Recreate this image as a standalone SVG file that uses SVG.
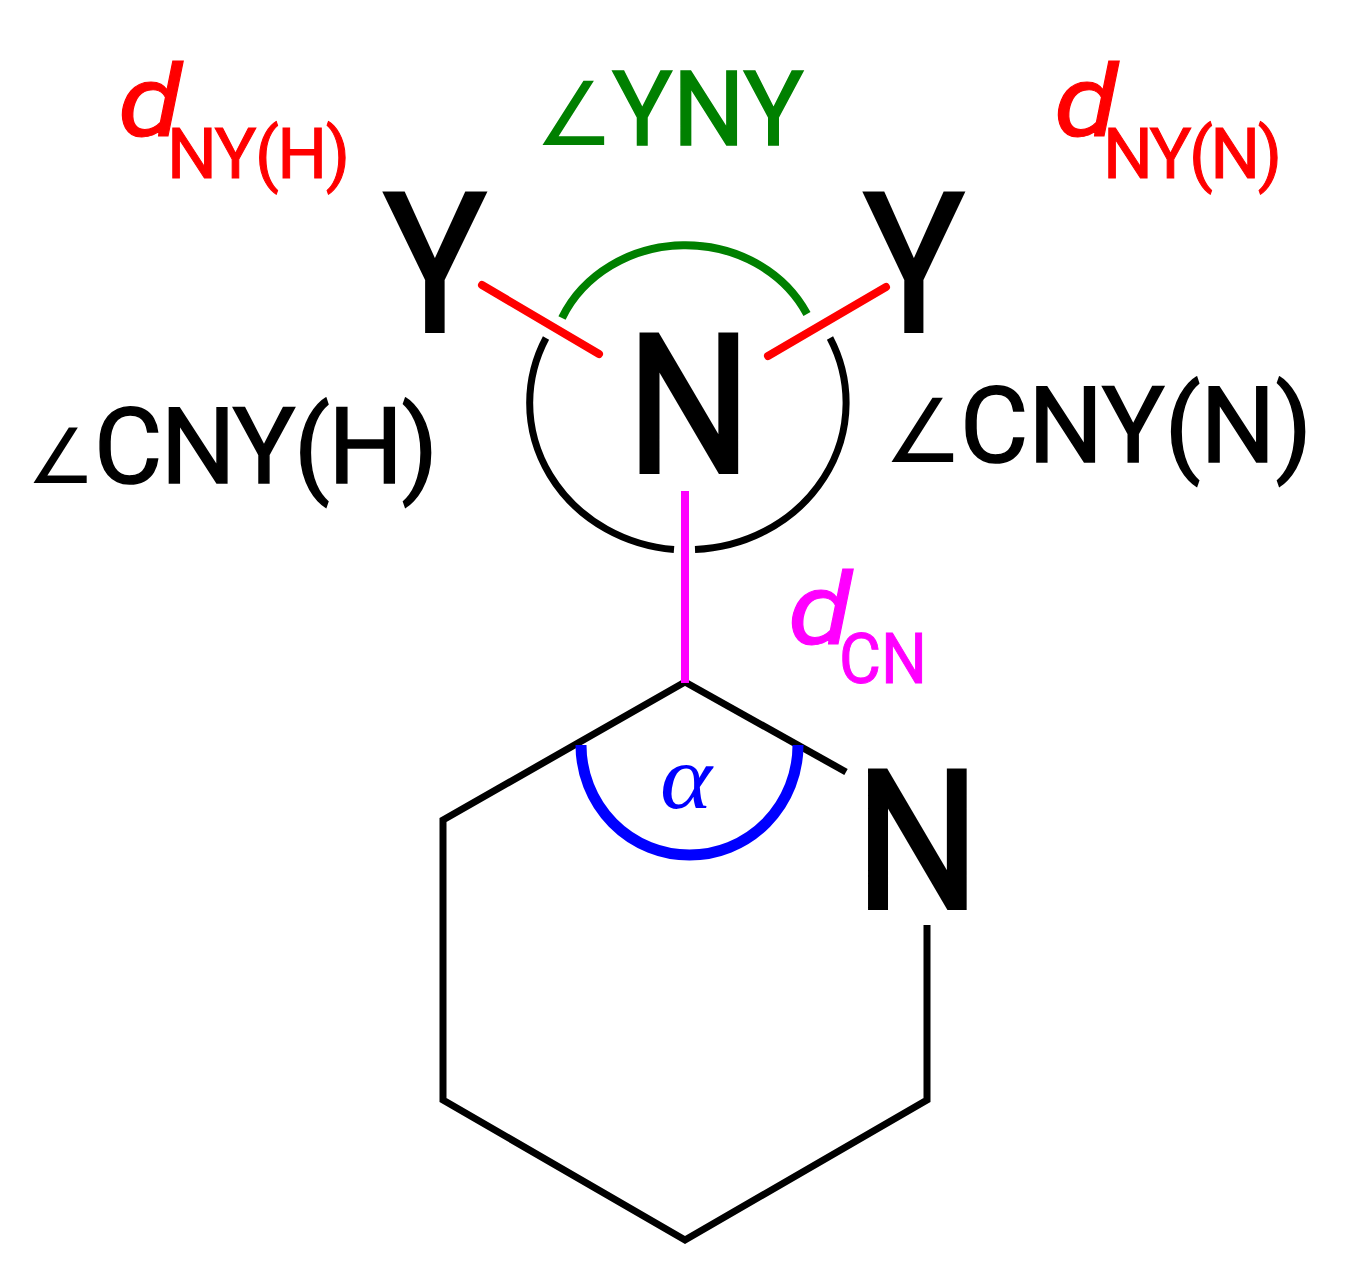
<svg xmlns="http://www.w3.org/2000/svg" width="1353" height="1283" viewBox="0 0 1353 1283">
<style>
text{font-family:Roboto,"Liberation Sans",Arial,sans-serif}
.a{font-size:193px;font-weight:400;fill:#000;stroke:#000;stroke-width:4}
.l{font-size:105px;font-weight:400;fill:#000;stroke:#000;stroke-width:1.500}
.g{font-family:"DejaVu Sans",sans-serif;font-size:76px}
.d{font-size:100px;font-style:italic;font-weight:400;stroke-width:1}
.s{font-size:70px;font-weight:400;stroke-width:1}
.k{fill:none;stroke:#000;stroke-width:7}
.r{fill:none;stroke:#f00;stroke-width:8;stroke-linecap:round}
</style>
<rect width="1353" height="1283" fill="#fff"/>
<g id="connectors">
<path class="k" d="M685 682L443 820V1100L685 1240L927 1100V925"/>
<path class="k" d="M685 682L846 772"/>
<path class="k" d="M546 338A158 147 0 0 0 674 549.500"/>
<path class="k" d="M830 338A158 147 0 0 1 695 549.500"/>
<path fill="none" stroke="#008000" stroke-width="8" d="M562 318A135 122 0 0 1 807 314"/>
<path class="r" d="M482 285L599 354"/>
<path class="r" d="M886 287L768 356"/>
<path fill="none" stroke="#f0f" stroke-width="8" d="M685 491V683"/>
<path fill="none" stroke="#00f" stroke-width="11" d="M581 745A108.500 110 0 0 0 798 745"/>
</g>
<g id="atom-y-left"><text class="a" x="384" y="331" textLength="102" lengthAdjust="spacingAndGlyphs">Y</text></g>
<g id="atom-y-right"><text class="a" x="864" y="331" textLength="100" lengthAdjust="spacingAndGlyphs">Y</text></g>
<g id="atom-n-top"><text class="a" x="627" y="472" textLength="124" lengthAdjust="spacingAndGlyphs">N</text></g>
<g id="atom-n-ring"><text class="a" x="855.500" y="908" textLength="124" lengthAdjust="spacingAndGlyphs">N</text></g>
<g id="label-dny-h"><text class="d" x="118" y="136" fill="#f00" stroke="#f00" textLength="64" lengthAdjust="spacingAndGlyphs">d</text><text class="s" x="167" y="178" fill="#f00" stroke="#f00" textLength="183">NY(H)</text></g>
<g id="label-dny-n"><text class="d" x="1054" y="136" fill="#f00" stroke="#f00" textLength="64" lengthAdjust="spacingAndGlyphs">d</text><text class="s" x="1103" y="178" fill="#f00" stroke="#f00" textLength="179">NY(N)</text></g>
<g id="label-yny"><text class="g" x="535" y="145" fill="#008000" style="font-size:88px">∠</text><text x="612" y="145" font-size="103" font-weight="400" fill="#008000" stroke="#008000" stroke-width="1.500" textLength="192" lengthAdjust="spacingAndGlyphs">YNY</text></g>
<g id="label-cny-h"><text class="g" x="27" y="483">∠</text><text class="l" x="94" y="483" textLength="344">CNY(H)</text></g>
<g id="label-cny-n"><text class="g" x="884" y="462" style="font-size:88px">∠</text><text class="l" x="960" y="462" textLength="352">CNY(N)</text></g>
<g id="label-dcn"><text class="d" x="788" y="644" fill="#f0f" stroke="#f0f" textLength="64" lengthAdjust="spacingAndGlyphs">d</text><text class="s" x="839" y="683" fill="#f0f" stroke="#f0f" font-size="68" textLength="88" lengthAdjust="spacingAndGlyphs">CN</text></g>
<g id="label-alpha"><text x="660" y="808" font-size="92" font-style="italic" fill="#00f" style="font-family:'Liberation Serif',serif" textLength="52" lengthAdjust="spacingAndGlyphs">α</text></g>
</svg>
